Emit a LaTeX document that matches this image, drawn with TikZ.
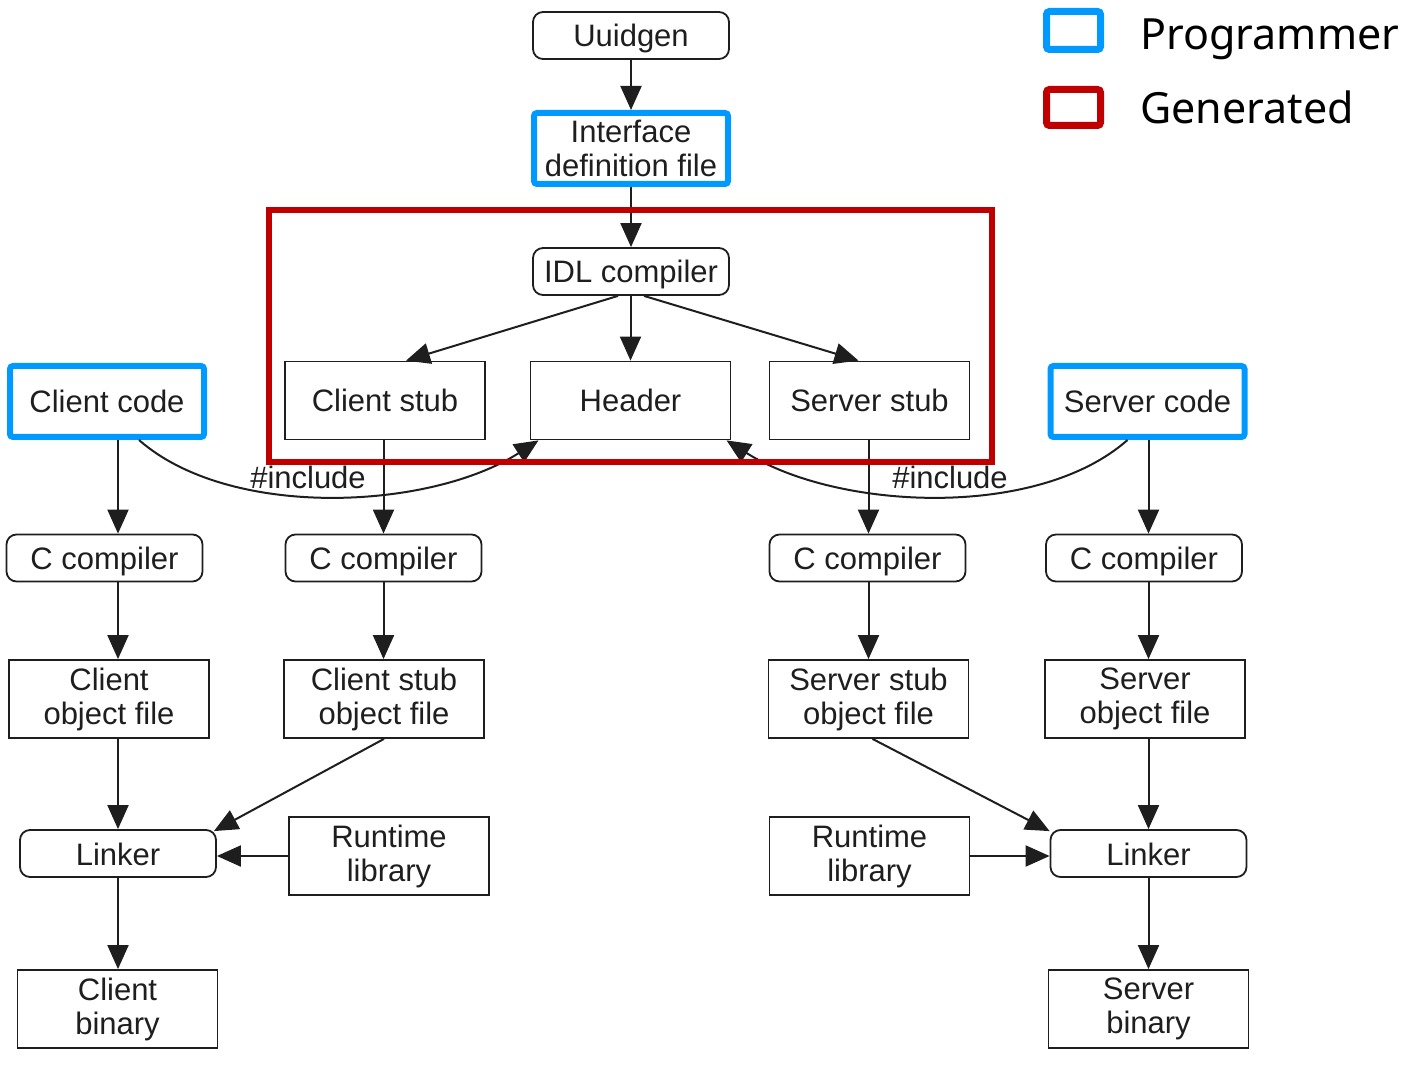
\documentclass[tikz,border=0pt]{standalone}
\usepackage{fontspec}
\setmainfont{Liberation Sans}
\newfontfamily\keyfont{Noto Sans}
\usepackage{tikz}
\usepackage{xcolor}
\usetikzlibrary{arrows.meta}
\definecolor{progblue}{RGB}{0,153,255}
\definecolor{genred}{RGB}{192,0,0}
\definecolor{ink}{RGB}{30,30,30}
\tikzstyle{tool} = [rectangle, rounded corners=5pt, minimum width=98pt, minimum height=23.5pt, text centered, text height=11.5pt, text depth=0pt, draw=ink, line width=0.9pt, inner sep=0pt]
\tikzstyle{file} = [rectangle, minimum width=100pt, minimum height=39pt, align=center, draw=ink, line width=0.9pt, inner sep=0pt]
\tikzstyle{programmer} = [rectangle, rounded corners=1.5pt, minimum width=97pt, minimum height=35.5pt, align=center, draw=progblue, line width=3pt, inner sep=0pt]
\tikzstyle{generated} = [draw=genred, line width=3pt]
\tikzstyle{arrow} = [draw=ink, line width=1pt, -{Triangle[length=12pt,width=10.5pt]}]
\tikzstyle{keytext} = [anchor=base west, inner sep=0pt, font=\keyfont\fontsize{21.5}{24}\selectfont, text=black]

\begin{document}
\begin{tikzpicture}[x=0.5pt, y=-0.5pt, every node/.style={font=\fontsize{15.5}{17}\selectfont, text=ink}]
        \useasboundingbox (0,0) rectangle (1402,1068);

        % top: uuidgen, idl file, idl compiler
        \node (uuidgen) [tool] at (631,35.5) {Uuidgen};
        \node (idlFile) [programmer] at (631,148.5) {Interface\\definition file};
        \node (idlCompiler) [tool] at (631,271.5) {IDL compiler};

        \node (clientStub) [file] at (385,400.5) {Client stub};
        \node (header) [file] at (630.5,400.5) {Header};
        \node (serverStub) [file] at (869.5,400.5) {Server stub};
        \node (clientCode) [programmer] at (107,401.5) {Client code};
        \node (serverCode) [programmer] at (1147.5,401.5) {Server code};

        % compilers
        \node (clientCompiler) [tool] at (104.5,558) {C compiler};
        \node (clientStubCompiler) [tool] at (383.5,558) {C compiler};
        \node (serverStubCompiler) [tool] at (867.5,558) {C compiler};
        \node (serverCompiler) [tool] at (1144,558) {C compiler};

        % object files
        \node (clientObject) [file] at (109,699) {Client\\object file};
        \node (clientStubObject) [file] at (384,699) {Client stub\\object file};
        \node (serverStubObject) [file] at (868.5,699) {Server stub\\object file};
        \node (serverObject) [file] at (1145,699) {Server\\object file};

        % linking
        \node (clientLinker) [tool] at (118,853.5) {Linker};
        \node (clientRuntime) [file] at (389,856) {Runtime\\library};
        \node (serverRuntime) [file] at (869.5,856) {Runtime\\library};
        \node (serverLinker) [tool] at (1148.5,853.5) {Linker};
        \node (clientBinary) [file] at (117.5,1009) {Client\\binary};
        \node (serverBinary) [file] at (1148.5,1009) {Server\\binary};

        \draw [arrow] (uuidgen) -- (idlFile);
        \draw [arrow] (idlFile) -- (idlCompiler);
        \draw [arrow] ([xshift=-6.5pt]idlCompiler.south) -- ([xshift=10.5pt]clientStub.north);
        \draw [arrow] (idlCompiler.south -| header) -- (header);
        \draw [arrow] ([xshift=6.5pt]idlCompiler.south) -- ([xshift=-5.5pt]serverStub.north);

        \draw [arrow] (clientCode.south -| clientLinker) -- (clientCompiler.north -| clientLinker);
        \draw [arrow] (clientCompiler.south -| clientLinker) -- (clientObject.north -| clientLinker);
        \draw [arrow] (clientObject.south -| clientLinker) -- (clientLinker);
        \draw [arrow] (clientLinker) -- (clientBinary.north -| clientLinker);

        \draw [arrow] (clientStub.south -| clientStubCompiler) -- (clientStubCompiler);
        \draw [arrow] (clientStubCompiler) -- (clientStubObject.north -| clientStubCompiler);
        \draw [arrow] (clientStubObject.south) -- ([xshift=-1.5pt, yshift=-1pt]clientLinker.north east);
        \draw [arrow] (clientRuntime.west) -- (clientRuntime.west -| clientLinker.east);

        \draw [arrow] (serverStub.south -| serverStubObject) -- (serverStubCompiler.north -| serverStubObject);
        \draw [arrow] (serverStubCompiler.south -| serverStubObject) -- (serverStubObject);
        \draw [arrow] ([xshift=2pt]serverStubObject.south) -- ([yshift=-1pt]serverLinker.north west);
        \draw [arrow] (serverRuntime.east) -- (serverRuntime.east -| serverLinker.west);

        \draw [arrow] (serverCode.south -| serverLinker) -- (serverCompiler.north -| serverLinker);
        \draw [arrow] (serverCompiler.south -| serverLinker) -- (serverObject.north -| serverLinker);
        \draw [arrow] (serverObject.south -| serverLinker) -- (serverLinker);
        \draw [arrow] (serverLinker) -- (serverBinary);

        % header includes
        \draw [arrow] ([xshift=16pt]clientCode.south) .. controls (230,520) and (430,510) .. ([xshift=-46pt]header.south);
        \draw [arrow] ([xshift=-10pt]serverCode.south) .. controls (1037,520) and (837,510) .. ([xshift=48pt]header.south);
        \node (clientInclude) [inner sep=0pt] at (308,477) {\#include};
        \node (serverInclude) [inner sep=0pt] at (950,477) {\#include};

        % generated frame
        \draw [generated] (269,210) rectangle (992,462);

        % legend
        \node (programmerKey) [programmer, minimum width=27pt, minimum height=19pt, line width=3.5pt] at (1073.5,30.5) {};
        \node (generatedKey) [programmer, draw=genred, minimum width=27pt, minimum height=18pt, line width=3.5pt] at (1073.5,107.5) {};
        \node (programmerText) [keytext] at (1140,50) {Programmer};
        \node (generatedText) [keytext] at (1140,124) {Generated};
    \end{tikzpicture}
\end{document}
